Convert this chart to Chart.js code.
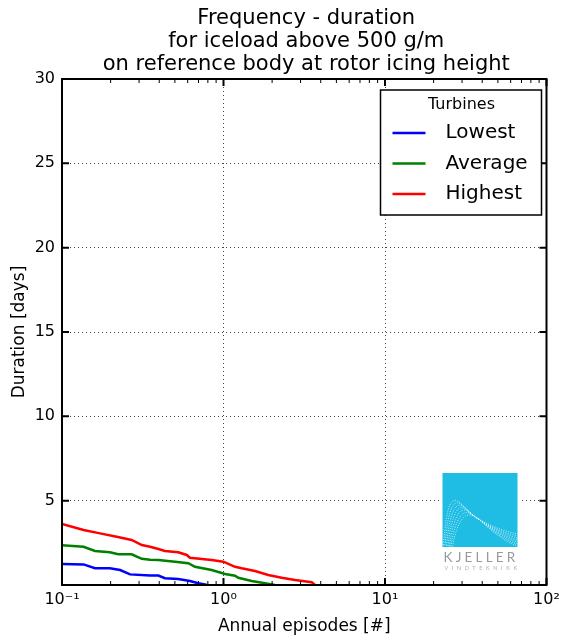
<!DOCTYPE html>
<html>
<head>
<meta charset="utf-8">
<script src="https://cdn.jsdelivr.net/npm/chart.js@4.4.1/dist/chart.umd.min.js"></script>
<style>
  html, body { margin: 0; padding: 0; background: #fff; }
  canvas { display: block; }
</style>
</head>
<body>
<canvas id="chart" width="570" height="640"></canvas>
<script>
// Frequency-duration curves for iceload above 500 g/m
const titleLines = ['Frequency - duration', 'for iceload above 500 g/m', 'on reference body at rotor icing height'];
const xAxisTitle = 'Annual episodes [#]';
const yAxisTitle = 'Duration [days]';
const legendTitle = 'Turbines';

const seriesNames = ['Lowest', 'Average', 'Highest'];
const seriesColors = ['#0000ff', '#008000', '#ff0000'];

const lowestEpisodes = [0.1, 0.136, 0.16, 0.198, 0.229, 0.264, 0.351, 0.395, 0.434, 0.525, 0.62, 0.698, 0.768, 0.79];
const lowestDays     = [1.24, 1.22, 0.99, 0.99, 0.89, 0.63, 0.57, 0.56, 0.40, 0.36, 0.24, 0.10, 0.03, 0.0];

const averageEpisodes = [0.1, 0.136, 0.16, 0.198, 0.223, 0.27, 0.312, 0.351, 0.395, 0.501, 0.605, 0.666, 0.845, 1.022, 1.179, 1.235, 1.495, 1.807, 2.084];
const averageDays     = [2.35, 2.27, 2.02, 1.94, 1.82, 1.82, 1.55, 1.50, 1.48, 1.38, 1.29, 1.08, 0.89, 0.65, 0.55, 0.43, 0.24, 0.10, 0.0];

const highestEpisodes = [0.1, 0.136, 0.172, 0.218, 0.27, 0.312, 0.351, 0.395, 0.434, 0.525, 0.592, 0.62, 0.845, 0.997, 1.179, 1.296, 1.567, 1.894, 2.294, 2.772, 3.517, 3.69];
const highestDays     = [3.62, 3.26, 3.06, 2.86, 2.67, 2.37, 2.27, 2.13, 2.02, 1.94, 1.78, 1.62, 1.48, 1.38, 1.08, 0.99, 0.83, 0.59, 0.43, 0.30, 0.16, 0.0];

const xDecades = [0.1, 1, 10, 100];
const xTickLabels = ['10\u207B\u00B9', '10\u2070', '10\u00B9', '10\u00B2'];
const yTicks = [0, 5, 10, 15, 20, 25, 30];
const yTickLabels = ['', '5', '10', '15', '20', '25', '30'];

const FONT = "'DejaVu Sans', sans-serif";

function toPoints(xs, ys) {
  return xs.map((x, i) => ({ x: x, y: ys[i] }));
}

const seriesData = [
  toPoints(lowestEpisodes, lowestDays),
  toPoints(averageEpisodes, averageDays),
  toPoints(highestEpisodes, highestDays)
];

// minor ticks 1..9 within each decade, plus the last decade
function logTickValues() {
  const vals = [];
  for (let d = 0; d < xDecades.length - 1; d++) {
    for (let m = 1; m <= 9; m++) vals.push(+(m * xDecades[d]).toPrecision(6));
  }
  vals.push(xDecades[xDecades.length - 1]);
  return vals;
}
function isDecade(v) {
  return xDecades.some(d => Math.abs(d - v) < 1e-9);
}

const gridColor = 'rgba(0,0,0,0.75)';

// three-line title centred over the plot area
const titlePlugin = {
  id: 'plotTitle',
  afterDraw(chart) {
    const { ctx, chartArea: a } = chart;
    ctx.save();
    ctx.fillStyle = '#000';
    ctx.font = '21px ' + FONT;
    ctx.textAlign = 'center';
    ctx.textBaseline = 'middle';
    const cx = (a.left + a.right) / 2 + 2;
    titleLines.forEach((line, i) => ctx.fillText(line, cx, 18.5 + i * 23));
    ctx.restore();
  }
};

// frame on all four sides with inward tick marks
const framePlugin = {
  id: 'frame',
  afterDatasetsDraw(chart) {
    const { ctx, chartArea: a, scales } = chart;
    ctx.save();
    ctx.strokeStyle = '#000';
    ctx.lineCap = 'butt';
    scales.x.ticks.forEach(t => {
      const px = scales.x.getPixelForValue(t.value);
      const major = isDecade(t.value);
      const len = major ? 7 : 4;
      ctx.lineWidth = major ? 2 : 1;
      ctx.beginPath();
      ctx.moveTo(px, a.bottom); ctx.lineTo(px, a.bottom - len);
      ctx.moveTo(px, a.top); ctx.lineTo(px, a.top + len);
      ctx.stroke();
    });
    scales.y.ticks.forEach(t => {
      const py = scales.y.getPixelForValue(t.value);
      ctx.lineWidth = 2;
      ctx.beginPath();
      ctx.moveTo(a.left, py); ctx.lineTo(a.left + 7, py);
      ctx.moveTo(a.right, py); ctx.lineTo(a.right - 7, py);
      ctx.stroke();
    });
    ctx.lineWidth = 2;
    ctx.strokeRect(a.left, a.top, a.right - a.left, a.bottom - a.top);
    ctx.restore();
  }
};

// legend box inside the upper right of the plot
const legendBoxPlugin = {
  id: 'legendBox',
  afterDraw(chart) {
    const { ctx, chartArea: a } = chart;
    const w = 161, h = 125;
    const x0 = a.right - 5 - w, y0 = a.top + 11;
    ctx.save();
    ctx.fillStyle = '#fff';
    ctx.fillRect(x0, y0, w, h);
    ctx.strokeStyle = '#000';
    ctx.lineWidth = 1.5;
    ctx.strokeRect(x0, y0, w, h);
    ctx.fillStyle = '#000';
    ctx.textBaseline = 'middle';
    ctx.textAlign = 'center';
    ctx.font = '16px ' + FONT;
    ctx.fillText(legendTitle, x0 + 81, y0 + 15);
    chart.data.datasets.forEach((ds, i) => {
      const ry = y0 + 43 + i * 30.5;
      ctx.strokeStyle = ds.borderColor;
      ctx.lineWidth = 2.5;
      ctx.beginPath();
      ctx.moveTo(x0 + 12, ry); ctx.lineTo(x0 + 45, ry);
      ctx.stroke();
      ctx.fillStyle = '#000';
      ctx.textAlign = 'left';
      ctx.font = '20px ' + FONT;
      ctx.fillText(ds.label, x0 + 65, ry);
    });
    ctx.restore();
  }
};

// company mark in the lower right corner of the plot
const logoPlugin = {
  id: 'logo',
  afterDraw(chart) {
    const { ctx, chartArea: a } = chart;
    const bx = a.right - 104, by = a.bottom - 112, bw = 75, bh = 74;
    ctx.save();
    ctx.fillStyle = '#fff';
    ctx.fillRect(bx - 3, by - 3, bw + 6, bh + 32);
    ctx.fillStyle = '#1fbde3';
    ctx.fillRect(bx, by, bw, bh);
    ctx.beginPath();
    ctx.rect(bx, by, bw, bh);
    ctx.clip();
    ctx.strokeStyle = 'rgba(255,255,255,0.85)';
    ctx.lineWidth = 0.8;
    ctx.setLineDash([1, 1.4]);
    for (let i = 0; i < 7; i++) {
      ctx.beginPath();
      ctx.moveTo(bx + 1 + i * 1.5, by + bh - 2 + i * 0.3);
      ctx.bezierCurveTo(bx + 4 + i * 1.8, by + 30 + i * 2.5, bx + 9 + i * 2.6, by + 20 + i * 3.2, bx + 20 + i * 1.5, by + 32 + i * 1.8);
      ctx.bezierCurveTo(bx + 27 + i * 0.5, by + 39 + i * 0.5, bx + 31, by + 43, bx + 36, by + 46);
      ctx.bezierCurveTo(bx + 50, by + 54 + i * 0.8, bx + 62, by + 58 + i * 1.8, bx + bw, by + 61 + i * 2);
      ctx.stroke();
    }
    ctx.restore();
    ctx.save();
    ctx.textAlign = 'left';
    ctx.textBaseline = 'middle';
    ctx.fillStyle = '#9a9a9a';
    ctx.font = '13.5px Lato, ' + FONT;
    ctx.letterSpacing = '3.2px';
    ctx.fillText('KJELLER', bx + 1, by + bh + 11);
    ctx.fillStyle = '#b0b0b0';
    ctx.font = '5.5px Lato, ' + FONT;
    ctx.letterSpacing = '3.6px';
    ctx.fillText('VINDTEKNIKK', bx + 2, by + bh + 21);
    ctx.restore();
  }
};

new Chart(document.getElementById('chart'), {
  type: 'scatter',
  data: {
    datasets: seriesData.map((pts, i) => ({
      label: seriesNames[i],
      data: pts,
      showLine: true,
      borderColor: seriesColors[i],
      backgroundColor: seriesColors[i],
      borderWidth: 2.5,
      pointRadius: 0,
      tension: 0
    }))
  },
  options: {
    responsive: false,
    animation: false,
    events: [],
    layout: { padding: { top: 79, left: 0, right: 23.5, bottom: 0 } },
    plugins: {
      legend: { display: false },
      tooltip: { enabled: false },
      title: { display: false }
    },
    scales: {
      x: {
        type: 'logarithmic',
        min: xDecades[0],
        max: xDecades[xDecades.length - 1],
        afterBuildTicks(scale) {
          scale.ticks = logTickValues().map(v => ({ value: v, major: isDecade(v) }));
        },
        afterFit(scale) { scale.height = 55; },
        ticks: {
          autoSkip: false,
          maxRotation: 0,
          padding: 5,
          color: '#000',
          font: { family: FONT, size: 16 },
          callback(value) {
            const k = xDecades.findIndex(d => Math.abs(d - value) < 1e-9);
            return k >= 0 ? xTickLabels[k] : '';
          }
        },
        grid: {
          drawTicks: false,
          lineWidth: 1,
          color: ctx => (ctx.tick && isDecade(ctx.tick.value)) ? gridColor : 'rgba(0,0,0,0)'
        },
        border: { display: false, dash: [1, 3] },
        title: {
          display: true,
          text: xAxisTitle,
          color: '#000',
          font: { family: FONT, size: 17 },
          padding: { top: 0, bottom: 3 }
        }
      },
      y: {
        min: yTicks[0],
        max: yTicks[yTicks.length - 1],
        afterBuildTicks(scale) {
          scale.ticks = yTicks.map(v => ({ value: v }));
        },
        afterFit(scale) { scale.width = 62; },
        ticks: {
          padding: 7,
          color: '#000',
          font: { family: FONT, size: 16 },
          callback(value) {
            const k = yTicks.indexOf(value);
            return k >= 0 ? yTickLabels[k] : '';
          }
        },
        grid: {
          drawTicks: false,
          lineWidth: 1,
          color: gridColor
        },
        border: { display: false, dash: [1, 3] },
        title: {
          display: true,
          text: yAxisTitle,
          color: '#000',
          font: { family: FONT, size: 17 },
          padding: { top: 9.5, bottom: 0 }
        }
      }
    }
  },
  plugins: [framePlugin, titlePlugin, legendBoxPlugin, logoPlugin]
});
</script>
</body>
</html>
